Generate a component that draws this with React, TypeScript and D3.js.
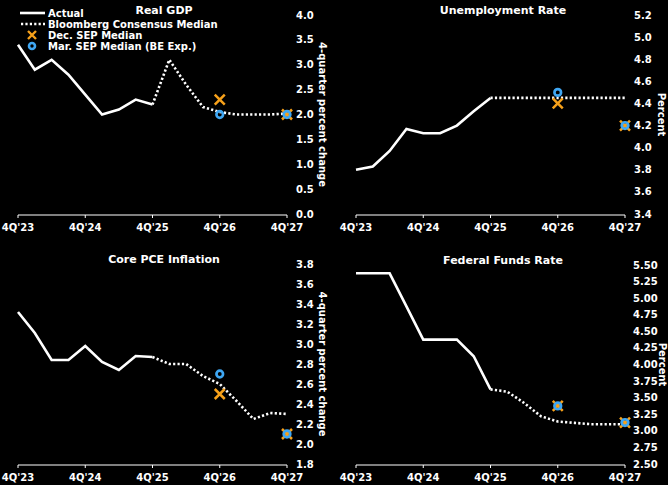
import React from 'react';
import * as d3 from 'd3';

// quarters 4Q'23 .. 4Q'27 (index 0..16); actual covers 0..8, forecasts 8..16
const quarterTicks = ["4Q'23", "4Q'24", "4Q'25", "4Q'26", "4Q'27"];
const sepIdx = [12, 16];

const gdpActual = [3.4, 2.9, 3.1, 2.8, 2.4, 2.0, 2.1, 2.3, 2.2];
const gdpConsensus = [2.2, 3.1, 2.6, 2.15, 2.05, 2.0, 2.0, 2.0, 2.02];
const gdpDec = [2.3, 2.0];
const gdpMar = [2.0, 2.0];

const urActual = [3.8, 3.83, 3.97, 4.17, 4.13, 4.13, 4.2, 4.33, 4.45];
const urConsensus = [4.45, 4.45, 4.45, 4.45, 4.45, 4.45, 4.45, 4.45, 4.45];
const urDec = [4.4, 4.2];
const urMar = [4.5, 4.2];

const pceActual = [3.32, 3.11, 2.84, 2.84, 2.98, 2.82, 2.74, 2.88, 2.87];
const pceConsensus = [2.87, 2.8, 2.8, 2.68, 2.6, 2.43, 2.25, 2.31, 2.3];
const pceDec = [2.5, 2.1];
const pceMar = [2.7, 2.1];

const ffActual = [5.375, 5.375, 5.375, 4.875, 4.375, 4.375, 4.375, 4.125, 3.625];
const ffConsensus = [3.625, 3.59, 3.42, 3.22, 3.14, 3.12, 3.1, 3.1, 3.1];
const ffDec = [3.375, 3.125];
const ffMar = [3.375, 3.125];

const ORANGE = '#f7a11a';
const BLUE = '#3fa7f3';
const FONT = 'DejaVu Sans, Verdana, sans-serif';

interface PanelProps {
  title: string;
  titleX: number;
  x0: number;
  x1: number;
  yTop: number;
  yBottom: number;
  domain: [number, number];
  step: number;
  fmt: string;
  labelX: number;
  axisTitle: string;
  axisTitleX: number;
  actual: number[];
  consensus: number[];
  dec: number[];
  mar: number[];
}

function Panel(p: PanelProps) {
  const x = d3.scaleLinear().domain([0, 16]).range([p.x0, p.x1]);
  const y = d3.scaleLinear().domain(p.domain).range([p.yBottom, p.yTop]);
  const ticks = d3.range(p.domain[0], p.domain[1] + p.step / 2, p.step);
  const fmt = d3.format(p.fmt);
  const line = d3.line<number>().x((_, i) => x(i)).y(d => y(d));
  const lineF = d3.line<number>().x((_, i) => x(i + 8)).y(d => y(d));
  const axisY = p.yBottom + 1;
  const s = 5;

  return (
    <g>
      <text x={p.titleX} y={p.yTop - 5} textAnchor="middle" dominantBaseline="central"
        fill="white" fontSize={11} fontWeight="bold" fontFamily={FONT}>{p.title}</text>
      {ticks.map(t => (
        <text key={t} x={p.labelX} y={y(t)} dominantBaseline="central" fill="white"
          fontSize={10} fontWeight="bold" fontFamily={FONT}>{fmt(t)}</text>
      ))}
      <text transform={`translate(${p.axisTitleX},${(p.yTop + p.yBottom) / 2}) rotate(90)`}
        textAnchor="middle" dominantBaseline="central" fill="white" fontSize={10}
        fontWeight="bold" fontFamily={FONT}>{p.axisTitle}</text>
      <line x1={p.x0} x2={p.x1} y1={axisY} y2={axisY} stroke="white" strokeWidth={1} />
      {quarterTicks.map((q, i) => (
        <g key={q}>
          <line x1={x(i * 4)} x2={x(i * 4)} y1={axisY} y2={axisY + 3} stroke="white" strokeWidth={1} />
          <text x={x(i * 4)} y={axisY + 12} textAnchor="middle" dominantBaseline="central"
            fill="white" fontSize={10} fontWeight="bold" fontFamily={FONT}>{q}</text>
        </g>
      ))}
      <path d={line(p.actual) || ''} fill="none" stroke="white" strokeWidth={2.6} strokeLinejoin="miter" />
      <path d={lineF(p.consensus) || ''} fill="none" stroke="white" strokeWidth={2.6} strokeDasharray="2.2,2.2" />
      {p.dec.map((v, i) => (
        <g key={'d' + i} transform={`translate(${x(sepIdx[i])},${y(v)})`}>
          <path d={`M${-s},${-s}L${s},${s}M${-s},${s}L${s},${-s}`} stroke={ORANGE} strokeWidth={2.5} />
        </g>
      ))}
      {p.mar.map((v, i) => (
        <circle key={'m' + i} cx={x(sepIdx[i])} cy={y(v)} r={3.3} fill="none" stroke={BLUE} strokeWidth={2.7} />
      ))}
    </g>
  );
}

function Legend() {
  const items = ['Actual', 'Bloomberg Consensus Median', 'Dec. SEP Median', 'Mar. SEP Median (BE Exp.)'];
  const ys = [13, 24, 35, 46];
  const s = 4;
  return (
    <g>
      <line x1={20} x2={45} y1={ys[0]} y2={ys[0]} stroke="white" strokeWidth={2.6} />
      <line x1={21} x2={45} y1={ys[1]} y2={ys[1]} stroke="white" strokeWidth={2.6} strokeDasharray="2.2,2.2" />
      <path d={`M${32 - s},${ys[2] - s}L${32 + s},${ys[2] + s}M${32 - s},${ys[2] + s}L${32 + s},${ys[2] - s}`}
        stroke={ORANGE} strokeWidth={2.4} />
      <circle cx={32} cy={ys[3]} r={3} fill="none" stroke={BLUE} strokeWidth={2.6} />
      {items.map((t, i) => (
        <text key={t} x={48} y={ys[i]} dominantBaseline="central" fill="white" fontSize={10}
          fontWeight="bold" fontFamily={FONT}>{t}</text>
      ))}
    </g>
  );
}

export default function App() {
  return (
    <svg width={668} height={485} style={{ position: 'absolute', left: 0, top: 0, background: 'black' }}>
      <rect width={668} height={485} fill="black" />
      <Panel title="Real GDP" titleX={164} x0={18} x1={287} yTop={15} yBottom={214}
        domain={[0, 4]} step={0.5} fmt=".1f" labelX={296} axisTitle="4-quarter percent change"
        axisTitleX={322} actual={gdpActual} consensus={gdpConsensus} dec={gdpDec} mar={gdpMar} />
      <Panel title="Unemployment Rate" titleX={503} x0={356} x1={625} yTop={15} yBottom={214}
        domain={[3.4, 5.2]} step={0.2} fmt=".1f" labelX={634} axisTitle="Percent"
        axisTitleX={661} actual={urActual} consensus={urConsensus} dec={urDec} mar={urMar} />
      <Panel title="Core PCE Inflation" titleX={164} x0={18} x1={287} yTop={264} yBottom={464}
        domain={[1.8, 3.8]} step={0.2} fmt=".1f" labelX={296} axisTitle="4-quarter percent change"
        axisTitleX={322} actual={pceActual} consensus={pceConsensus} dec={pceDec} mar={pceMar} />
      <Panel title="Federal Funds Rate" titleX={503} x0={356} x1={625} yTop={265} yBottom={464}
        domain={[2.5, 5.5]} step={0.25} fmt=".2f" labelX={633} axisTitle="Percent"
        axisTitleX={662} actual={ffActual} consensus={ffConsensus} dec={ffDec} mar={ffMar} />
      <Legend />
    </svg>
  );
}
